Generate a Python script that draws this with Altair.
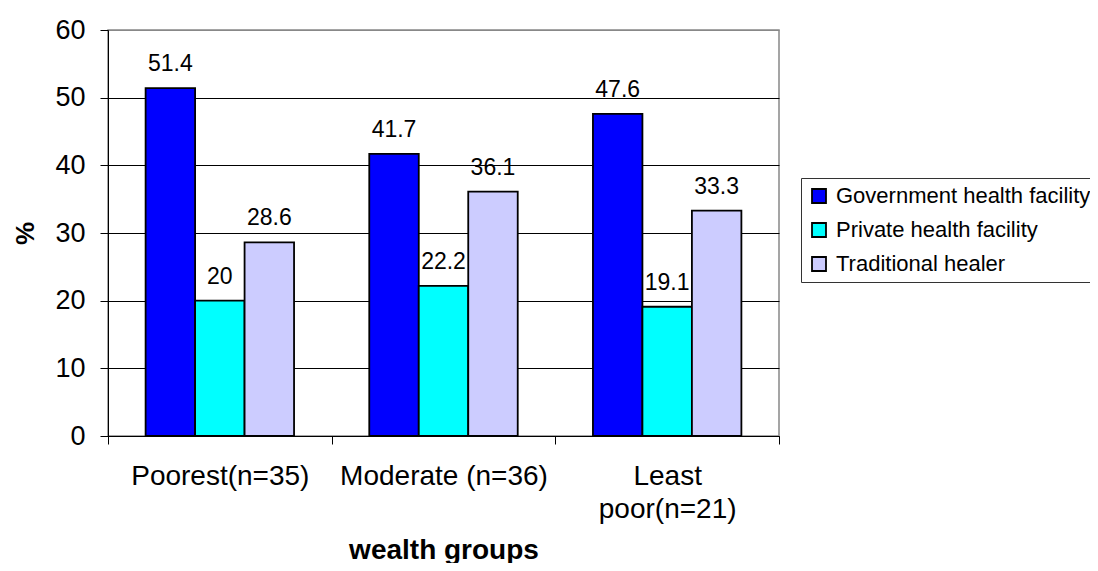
import altair as alt
import pandas as pd

groups = ["Poorest(n=35)", "Moderate (n=36)", "Least poor(n=21)"]
series = ["Government health facility", "Private health facility", "Traditional healer"]
government = [51.4, 41.7, 47.6]
private = [20, 22.2, 19.1]
traditional = [28.6, 36.1, 33.3]
colors = ["#0000FF", "#00FFFF", "#CCCCFF"]

rows = []
for i, g in enumerate(groups):
    for s, vals in zip(series, [government, private, traditional]):
        rows.append({"Group": g, "Series": s, "Value": vals[i]})
df = pd.DataFrame(rows)

FONT = "Liberation Sans"

x_enc = alt.X(
    "Group:N",
    sort=groups,
    scale=alt.Scale(paddingInner=0, paddingOuter=0),
    axis=alt.Axis(
        title="wealth groups",
        titleFontSize=28,
        titleFontWeight="bold",
        titleY=122,
        titleBaseline="alphabetic",
        labelAngle=0,
        labelFontSize=28,
        labelBaseline="top",
        labelPadding=18,
        labelLineHeight=33,
        labelLimit=400,
        labelOverlap=False,
        labelColor="black",
        labelExpr="datum.value == 'Least poor(n=21)' ? ['Least', 'poor(n=21)'] : datum.label",
        tickBand="extent",
        tickSize=8,
        tickColor="black",
        domainColor="black",
        grid=False,
    ),
)
xoff_enc = alt.XOffset(
    "Series:N",
    sort=series,
    scale=alt.Scale(paddingInner=0, paddingOuter=0.76),
)
y_enc = alt.Y(
    "Value:Q",
    scale=alt.Scale(domain=[0, 60], nice=False),
    axis=alt.Axis(
        title="%",
        titleFontSize=26,
        titleFontWeight="bold",
        titleAngle=-90,
        titleX=-83,
        titleY=203,
        titleAlign="center",
        titleBaseline="middle",
        values=[0, 10, 20, 30, 40, 50, 60],
        labelFontSize=27,
        labelPadding=15,
        labelColor="black",
        tickSize=8,
        tickColor="black",
        domainColor="black",
        gridColor={"condition": {"test": "datum.value === 60", "value": "#888888"}, "value": "black"},
        gridWidth=1,
    ),
)

bars = alt.Chart(df).mark_bar(stroke="black", strokeWidth=1.8).encode(
    x=x_enc,
    xOffset=xoff_enc,
    y=y_enc,
    color=alt.Color(
        "Series:N",
        sort=series,
        scale=alt.Scale(domain=series, range=colors),
        legend=alt.Legend(
            title=None,
            orient="none",
            legendX=693,
            legendY=148,
            padding=7,
            strokeColor="#333333",
            fillColor="white",
            symbolType="square",
            symbolSize=196,
            symbolStrokeColor="black",
            symbolStrokeWidth=1.8,
            symbolOpacity=1,
            labelFontSize=22,
            labelOffset=6,
            labelLimit=400,
            labelColor="black",
            rowPadding=12,
        ),
    ),
)

labels = alt.Chart(df).mark_text(fontSize=23, baseline="alphabetic", dy=-17, color="black").encode(
    x=alt.X("Group:N", sort=groups),
    xOffset=alt.XOffset("Series:N", sort=series),
    y="Value:Q",
    text=alt.Text("Value:Q"),
)

chart = (
    alt.layer(bars, labels)
    .properties(
        width=671,
        height=406,
        autosize=alt.AutoSizeParams(type="none"),
        padding={"left": 100, "top": 22, "right": 311, "bottom": 127},
    )
    .configure(font=FONT)
    .configure_view(stroke="#888888", strokeWidth=1.5)
)

chart.save("out.html", embed_options={"renderer": "svg", "actions": False})
